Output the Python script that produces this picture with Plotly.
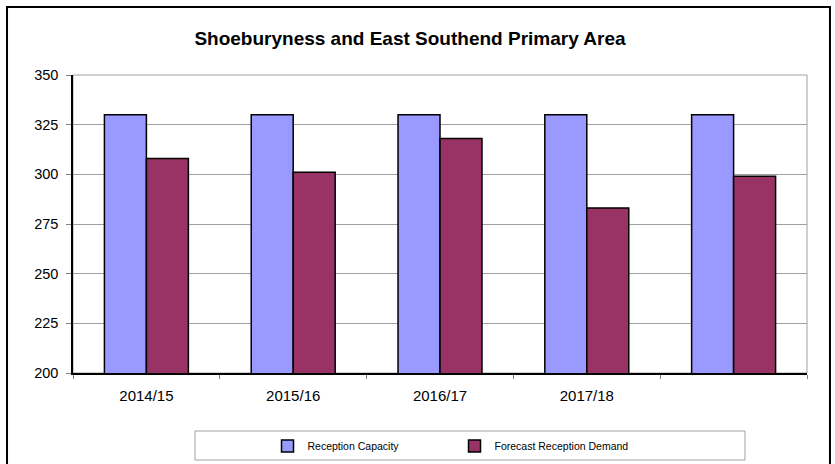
import plotly.graph_objects as go

# chart data
years = ["2014/15", "2015/16", "2016/17", "2017/18", " "]
capacity = [330, 330, 330, 330, 330]
demand = [308, 301, 318, 283, 299]

fig = go.Figure()
fig.add_trace(go.Bar(
    x=years, y=capacity, name="Reception Capacity",
    marker=dict(color="#9999FF", line=dict(color="black", width=1.5))
))
fig.add_trace(go.Bar(
    x=years, y=demand, name="Forecast Reception Demand",
    marker=dict(color="#993366", line=dict(color="black", width=1.5))
))

# plot area frame (grey top/right edges) and outer chart border
fig.add_shape(type="rect", xref="paper", yref="paper", x0=0, x1=1, y0=0, y1=1,
              line=dict(color="#A0A0A0", width=1), layer="below")
fig.add_shape(type="rect", xref="paper", yref="paper",
              x0=-0.0899, x1=1.0313, y0=-0.4, y1=1.228,
              line=dict(color="black", width=2))
# legend box
fig.add_shape(type="rect", xref="paper", yref="paper",
              x0=0.1662, x1=0.9155, y0=-0.292, y1=-0.1946,
              line=dict(color="#A0A0A0", width=1))

fig.update_layout(
    width=835, height=464,
    margin=dict(l=73, r=28, t=75, b=91, autoexpand=False),
    paper_bgcolor="white", plot_bgcolor="white",
    font=dict(family="Liberation Sans, Arial", color="black", size=14),
    title=dict(text="<b>Shoeburyness and East Southend Primary Area</b>",
               x=0.491, xanchor="center", y=0.918, yanchor="middle",
               font=dict(size=19)),
    barmode="group", bargap=0.428, bargroupgap=0,
    showlegend=True,
    legend=dict(orientation="h", x=0.265, xanchor="left", y=-0.245, yanchor="middle",
                font=dict(size=10.5), itemwidth=30,
                entrywidth=142, entrywidthmode="pixels",
                bgcolor="rgba(0,0,0,0)"),
)
fig.update_xaxes(
    showline=True, linecolor="black", linewidth=1.5,
    ticks="outside", tickson="boundaries", ticklen=4, tickcolor="#808080",
    showgrid=False, tickfont=dict(size=15), automargin=False,
    ticklabelstandoff=8,
)
fig.update_yaxes(
    range=[200, 350], dtick=25, tick0=200,
    showline=True, linecolor="black", linewidth=1.5,
    ticks="outside", ticklen=5, tickcolor="#808080",
    showgrid=True, gridcolor="#A0A0A0", gridwidth=1,
    zeroline=False, tickfont=dict(size=14.5), automargin=False,
    ticklabelstandoff=5,
)

fig.write_html("out.html", config={"displayModeBar": False},
               post_script="document.body.style.margin='0';")
